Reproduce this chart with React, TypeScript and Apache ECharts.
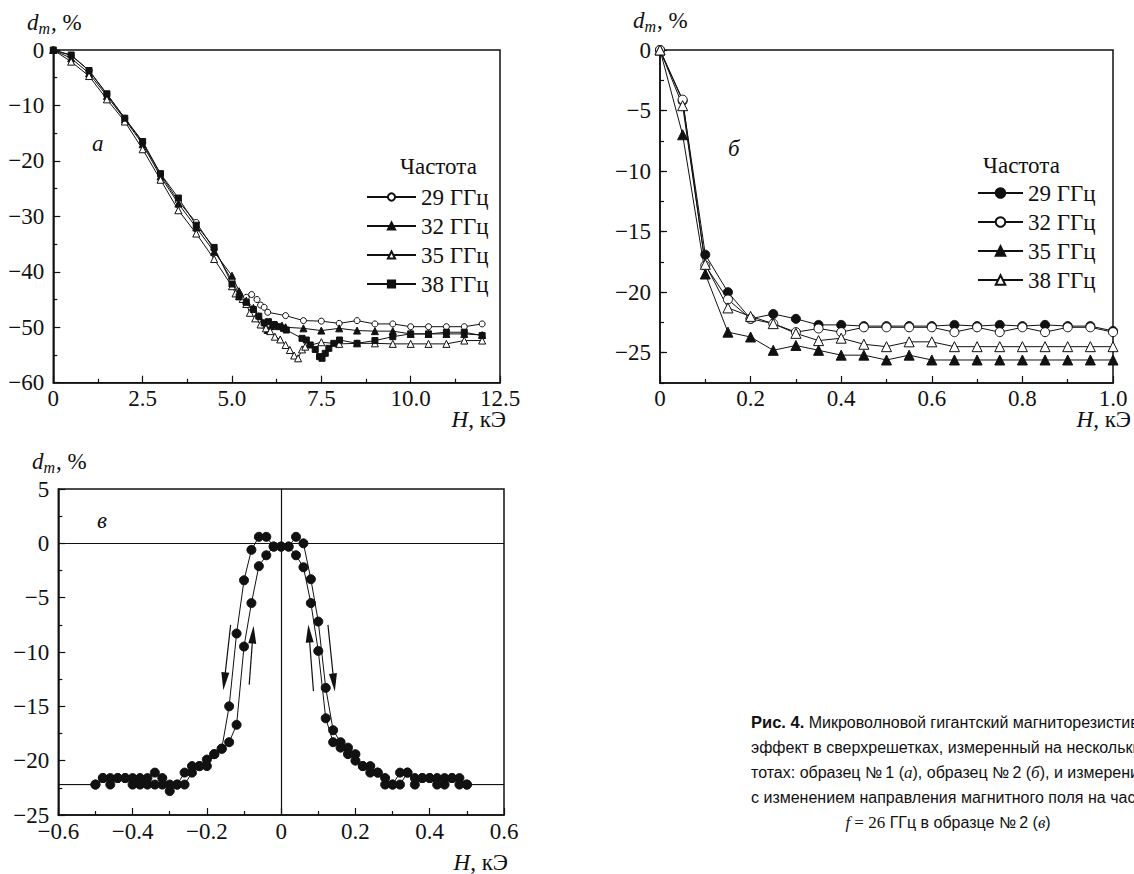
import React, { useEffect, useRef } from 'react';
import * as echarts from 'echarts';

const SERIF = "'Liberation Serif', 'Times New Roman', serif";
const SANS = "'Liberation Sans', Arial, sans-serif";
const INK = '#111';

const freqLabels = ['29 ГГц', '32 ГГц', '35 ГГц', '38 ГГц'];

// ---------- Panel а : образец №1, d_m vs H (kOe) ----------
const a29 = [[0,0],[0.5,-1.0],[1,-3.7],[1.5,-8],[2,-12.3],[2.5,-16.7],[3,-22.4],[3.5,-27.3],[4,-31.1],[4.5,-36],[5,-41.6],[5.2,-44],[5.4,-44.6],[5.55,-44.1],[5.7,-45],[5.8,-46],[5.9,-46.4],[6,-47.3],[6.5,-47.9],[7,-48.8],[7.5,-48.9],[8,-49.3],[8.5,-48.8],[9,-49.4],[9.5,-49.4],[10,-49.9],[10.5,-49.9],[11,-49.9],[11.5,-49.9],[12,-49.4]];
const a32 = [[0,0],[0.5,-1.5],[1,-4.2],[1.5,-8.3],[2,-12.5],[2.5,-17],[3,-22.8],[3.5,-27.7],[4,-32],[4.5,-36.4],[5,-40.7],[5.2,-43.5],[5.4,-45.2],[5.6,-46.5],[5.75,-48],[5.9,-49.5],[6,-50.5],[6.1,-49.8],[6.25,-49.5],[6.4,-49.7],[6.5,-50],[7,-50.2],[7.5,-50.6],[8,-50.2],[8.5,-50.6],[9,-50.7],[9.5,-50.7],[10,-51.2],[10.5,-51.2],[11,-51.2],[11.5,-51.2],[12,-51.4]];
const a35 = [[0,0],[0.5,-2.1],[1,-4.7],[1.5,-8.9],[2,-12.9],[2.5,-17.9],[3,-23.4],[3.5,-28.9],[4,-33.1],[4.5,-37.7],[5,-42.6],[5.1,-43.9],[5.2,-44.4],[5.3,-44.9],[5.4,-45.8],[5.5,-47.4],[5.65,-48.4],[5.8,-49.5],[5.95,-50.2],[6.07,-50.7],[6.2,-51.7],[6.35,-52.2],[6.5,-53.2],[6.62,-54.1],[6.74,-55.1],[6.85,-55.6],[6.96,-54],[7.05,-53.5],[7.5,-52.7],[8,-53],[8.5,-52.9],[9,-52.9],[9.5,-53],[10,-53],[10.5,-53],[11,-53],[11.5,-52.4],[12,-52.4]];
const a38 = [[0,0],[0.5,-0.9],[1,-3.7],[1.5,-7.9],[2,-12.3],[2.5,-16.5],[3,-22.3],[3.5,-26.7],[4,-31.6],[4.5,-35.6],[5,-42.2],[5.2,-44.5],[5.4,-45.5],[5.6,-46.8],[5.75,-48],[5.9,-49.2],[6.02,-49],[6.16,-49.5],[6.3,-49.9],[6.44,-50.2],[6.52,-50.5],[6.96,-52],[7.08,-52.3],[7.19,-53.2],[7.33,-54],[7.45,-55.3],[7.52,-55.6],[7.61,-54.7],[7.71,-53.8],[7.85,-52.9],[8.01,-52.3],[8.5,-52.9],[9,-52.4],[9.5,-51.7],[10,-51.2],[10.5,-51.2],[11,-50.9],[11.5,-50.9],[12,-51.5]];

// ---------- Panel б : образец №2 ----------
const bX = [0, 0.05, 0.1, 0.15, 0.2, 0.25, 0.3, 0.35, 0.4, 0.45, 0.5, 0.55, 0.6, 0.65, 0.7, 0.75, 0.8, 0.85, 0.9, 0.95, 1.0];
const b29 = [0, -4.2, -16.9, -20.0, -22.2, -21.8, -22.2, -22.7, -22.7, -22.8, -22.8, -22.8, -22.8, -22.7, -22.8, -22.7, -22.8, -22.7, -22.8, -22.8, -23.2];
const b32 = [0, -4.1, -17.8, -20.6, -22.2, -22.6, -23.3, -23.0, -23.3, -22.9, -22.9, -22.9, -22.9, -23.3, -22.9, -23.3, -22.9, -23.3, -22.9, -22.9, -23.3];
const b35 = [0, -7.0, -18.5, -23.3, -23.7, -24.8, -24.4, -24.8, -25.2, -25.2, -25.6, -25.2, -25.6, -25.6, -25.6, -25.6, -25.6, -25.6, -25.6, -25.6, -25.6];
const b38 = [0, -4.6, -17.7, -21.3, -22.0, -22.6, -23.4, -24.0, -23.8, -24.3, -24.5, -24.1, -24.1, -24.5, -24.5, -24.5, -24.5, -24.5, -24.5, -24.5, -24.5];

// ---------- Panel в : f = 26 GHz, hysteresis ----------
const cX = [-0.5,-0.48,-0.46,-0.44,-0.42,-0.4,-0.38,-0.36,-0.34,-0.32,-0.3,-0.28,-0.26,-0.24,-0.22,-0.2,-0.18,-0.16,-0.14,-0.12,-0.1,-0.08,-0.06,-0.04,-0.02,0,0.02,0.04,0.06,0.08,0.1,0.12,0.14,0.16,0.18,0.2,0.22,0.24,0.26,0.28,0.3,0.32,0.34,0.36,0.38,0.4,0.42,0.44,0.46,0.48,0.5];
const cUp = [-22.2,-21.6,-22.2,-21.6,-21.6,-22.2,-21.6,-22.2,-22.2,-22.2,-22.8,-22.2,-22.2,-21.1,-20.5,-20.5,-19.4,-18.9,-18.3,-16.7,-9.5,-5.5,-2.1,-1.1,-0.3,-0.3,-0.3,0.6,0,-3.3,-7.2,-13.3,-17.2,-18.3,-18.8,-19.4,-20.5,-20.5,-21.1,-21.6,-22.2,-21.1,-21.1,-22.2,-21.6,-21.6,-22.2,-22.2,-21.6,-21.6,-22.2];
const cDown = [-22.2,-21.6,-21.6,-21.6,-21.6,-21.6,-22.2,-21.6,-21.1,-21.6,-22.2,-22.2,-21.1,-20.5,-20.5,-19.9,-19.4,-18.9,-15.0,-8.3,-3.4,-0.6,0.6,0.6,-0.3,-0.3,-0.3,-1.1,-2.2,-5.5,-9.9,-16.1,-18.3,-18.8,-19.4,-20.0,-20.5,-21.1,-21.1,-22.2,-22.2,-22.2,-21.1,-21.6,-21.6,-21.6,-21.6,-21.6,-21.6,-22.2,-22.2];
const cTailX = [-0.6, 0.6];
const cTailY = -22.2;
// arrows: [H start, d start, H end, d end]
const cArrows = [
  [-0.136, -7.5, -0.153, -12.7],
  [-0.086, -13.0, -0.076, -8.4],
  [0.087, -13.6, 0.075, -8.3],
  [0.126, -7.5, 0.142, -12.8],
];

const fmt = (v: number, digits: number) => {
  if (Math.abs(v) < 1e-9) return '0';
  return v.toFixed(digits).replace('-', '\u2212');
};

function valueAxis(gridIndex: number, min: number, max: number, interval: number, digits: number, margin: number, extra: any = {}) {
  return {
    type: 'value', gridIndex, min, max, interval,
    axisLine: { show: true, onZero: false, lineStyle: { color: INK, width: 1.5 } },
    axisTick: { show: true, inside: true, length: 7, lineStyle: { color: INK, width: 1.2 } },
    minorTick: { show: true, splitNumber: 2, length: 4, lineStyle: { color: INK, width: 1.2 } },
    splitLine: { show: false },
    minorSplitLine: { show: false },
    axisLabel: { color: INK, fontFamily: SERIF, fontSize: 23, margin, formatter: (v: number) => fmt(v, digits) },
    ...extra,
  };
}

function lineSeries(name: string, data: any[], axis: number, symbol: string, filled: boolean, size: number) {
  return {
    type: 'line', name, data, xAxisIndex: axis, yAxisIndex: axis,
    symbol, symbolSize: size, showSymbol: true, showAllSymbol: true,
    lineStyle: { color: INK, width: 1 },
    itemStyle: { color: filled ? INK : '#fff', borderColor: INK, borderWidth: 1 },
    emphasis: { disabled: true },
    silent: true,
  };
}

const txt = (x: number, y: number, text: string, st: any = {}) => ({
  type: 'text', x, y, silent: true,
  style: {
    text, fill: INK, fontFamily: SERIF, fontSize: 23,
    textAlign: 'left', align: 'left', textVerticalAlign: 'middle', verticalAlign: 'middle',
    ...st,
  },
});

const dmTitle = (x: number, y: number) => [
  txt(x, y, 'd', { fontStyle: 'italic' }),
  txt(x + 11.5, y + 6, 'm', { fontStyle: 'italic', fontSize: 16 }),
  txt(x + 24, y, ', %'),
];
const hTitle = (x: number, y: number) => txt(x, y, '{i|H}, кЭ', {
  textAlign: 'right', align: 'right',
  rich: { i: { fontStyle: 'italic', fontFamily: SERIF, fontSize: 23 } },
});

const bNames = freqLabels.map((s) => s + ' ');

const captionLines = [
  '{b|Рис. 4.} Микроволновой гигантский магниторезистивный',
  'эффект в сверхрешетках, измеренный на нескольких час-',
  'тотах: образец №\u20091 ({i|а}), образец №\u20092 ({i|б}), и измерения',
  'с изменением направления магнитного поля на частоте',
];
const captionLast = '{i|f}{m| = 26} ГГц в образце №\u20092 ({i|в})';
const capRich = {
  b: { fontWeight: 'bold', fontFamily: SANS, fontSize: 16.5 },
  i: { fontStyle: 'italic', fontFamily: SERIF, fontSize: 17 },
  m: { fontFamily: SERIF, fontSize: 17 },
};

function buildOption() {
  const tailPt = (x: number) => ({ value: [x, cTailY], symbol: 'none' });
  const upData: any[] = [tailPt(cTailX[0]), ...cX.map((x, i) => [x, cUp[i]]), tailPt(cTailX[1])];
  const downData: any[] = [tailPt(cTailX[1]), ...cX.map((x, i) => [x, cDown[i]]).reverse(), tailPt(cTailX[0])];

  const markData: any[] = [
    { xAxis: 0 },
    { yAxis: 0 },
    ...cArrows.map((a) => [
      { coord: [a[0], a[1]], symbol: 'none' },
      { coord: [a[2], a[3]], symbol: 'triangle', symbolSize: [8, 18] },
    ]),
  ];

  return {
    animation: false,
    backgroundColor: '#fff',
    grid: [
      { left: 53.3, top: 50, width: 446.7, height: 332.7, show: true, borderColor: INK, borderWidth: 1.5, backgroundColor: 'transparent' },
      { left: 660, top: 50, width: 453, height: 333, show: true, borderColor: INK, borderWidth: 1.5, backgroundColor: 'transparent' },
      { left: 58.3, top: 489, width: 445.7, height: 326, show: true, borderColor: INK, borderWidth: 1.5, backgroundColor: 'transparent' },
    ],
    xAxis: [
      valueAxis(0, 0, 12.5, 2.5, 1, 4),
      valueAxis(1, 0, 1.0, 0.2, 1, 4),
      valueAxis(2, -0.6, 0.6, 0.2, 1, 5),
    ],
    yAxis: [
      valueAxis(0, -60, 0, 10, 0, 9),
      valueAxis(1, -27.5, 0, 2.5, 0, 9, {
        axisTick: { show: true, inside: true, length: 4, lineStyle: { color: INK, width: 1.2 } },
        minorTick: { show: false },
        axisLabel: {
          color: INK, fontFamily: SERIF, fontSize: 23, margin: 9,
          formatter: (v: number) => (Math.abs(v % 5) < 1e-9 ? fmt(v, 0) : ''),
        },
      }),
      valueAxis(2, -25, 5, 5, 0, 9),
      {
        type: 'value', gridIndex: 1, min: -27.5, max: 0, position: 'left',
        axisLine: { show: false },
        axisLabel: { show: false },
        splitLine: { show: false },
        axisTick: { show: true, inside: true, length: 7, customValues: [-25, -20, -15, -10, -5, 0], lineStyle: { color: INK, width: 1.2 } },
      },
    ],
    legend: [
      {
        data: freqLabels, orient: 'vertical', left: 366, top: 185.5, padding: 0,
        itemWidth: 49, itemHeight: 9, itemGap: 6, selectedMode: false,
        textStyle: { fontFamily: SERIF, fontSize: 23, color: INK, lineHeight: 23 },
      },
      {
        data: bNames, orient: 'vertical', left: 977, top: 181.5, padding: 0,
        itemWidth: 45, itemHeight: 12, itemGap: 6, selectedMode: false,
        formatter: (n: string) => n.trim(),
        textStyle: { fontFamily: SERIF, fontSize: 23, color: INK, lineHeight: 23 },
      },
    ],
    series: [
      lineSeries(freqLabels[0], a29, 0, 'circle', false, 6),
      lineSeries(freqLabels[1], a32, 0, 'triangle', true, 7),
      lineSeries(freqLabels[2], a35, 0, 'triangle', false, 7),
      lineSeries(freqLabels[3], a38, 0, 'rect', true, 6),
      lineSeries(bNames[0], bX.map((x, i) => [x, b29[i]]), 1, 'circle', true, 9),
      lineSeries(bNames[1], bX.map((x, i) => [x, b32[i]]), 1, 'circle', false, 9),
      lineSeries(bNames[2], bX.map((x, i) => [x, b35[i]]), 1, 'triangle', true, 10),
      lineSeries(bNames[3], bX.map((x, i) => [x, b38[i]]), 1, 'triangle', false, 10),
      {
        ...lineSeries('sweepUp', upData, 2, 'circle', true, 9),
        markLine: {
          silent: true, animation: false,
          symbol: ['none', 'none'],
          label: { show: false },
          lineStyle: { type: 'solid', color: INK, width: 1.2 },
          emphasis: { disabled: true },
          data: markData,
        },
      },
      lineSeries('sweepDown', downData, 2, 'circle', true, 9),
    ],
    graphic: [
      // panel letters
      txt(92, 143, 'а', { fontStyle: 'italic' }),
      txt(728, 148, 'б', { fontStyle: 'italic' }),
      txt(97, 520, 'в', { fontStyle: 'italic' }),
      // legend headers
      txt(400, 166, 'Частота'),
      txt(983, 165, 'Частота'),
      // axis titles
      ...dmTitle(27, 22),
      ...dmTitle(633, 20),
      ...dmTitle(32, 461),
      hTitle(506, 419),
      hTitle(1131, 419),
      hTitle(508, 862),
      // caption
      ...captionLines.map((t, i) => txt(751, 722 + i * 25, t, { fontFamily: SANS, fontSize: 16, rich: capRich })),
      txt(948, 822, captionLast, { fontFamily: SANS, fontSize: 16, textAlign: 'center', align: 'center', rich: capRich }),
    ],
  };
}

export default function App() {
  const ref = useRef<HTMLDivElement>(null);
  useEffect(() => {
    if (!ref.current) return;
    const chart = echarts.init(ref.current, undefined, { renderer: 'svg' });
    chart.setOption(buildOption() as any);
    return () => chart.dispose();
  }, []);
  return (
    <div
      ref={ref}
      style={{ position: 'absolute', left: 0, top: 0, width: 1134, height: 874, background: '#fff', overflow: 'hidden' }}
    />
  );
}
